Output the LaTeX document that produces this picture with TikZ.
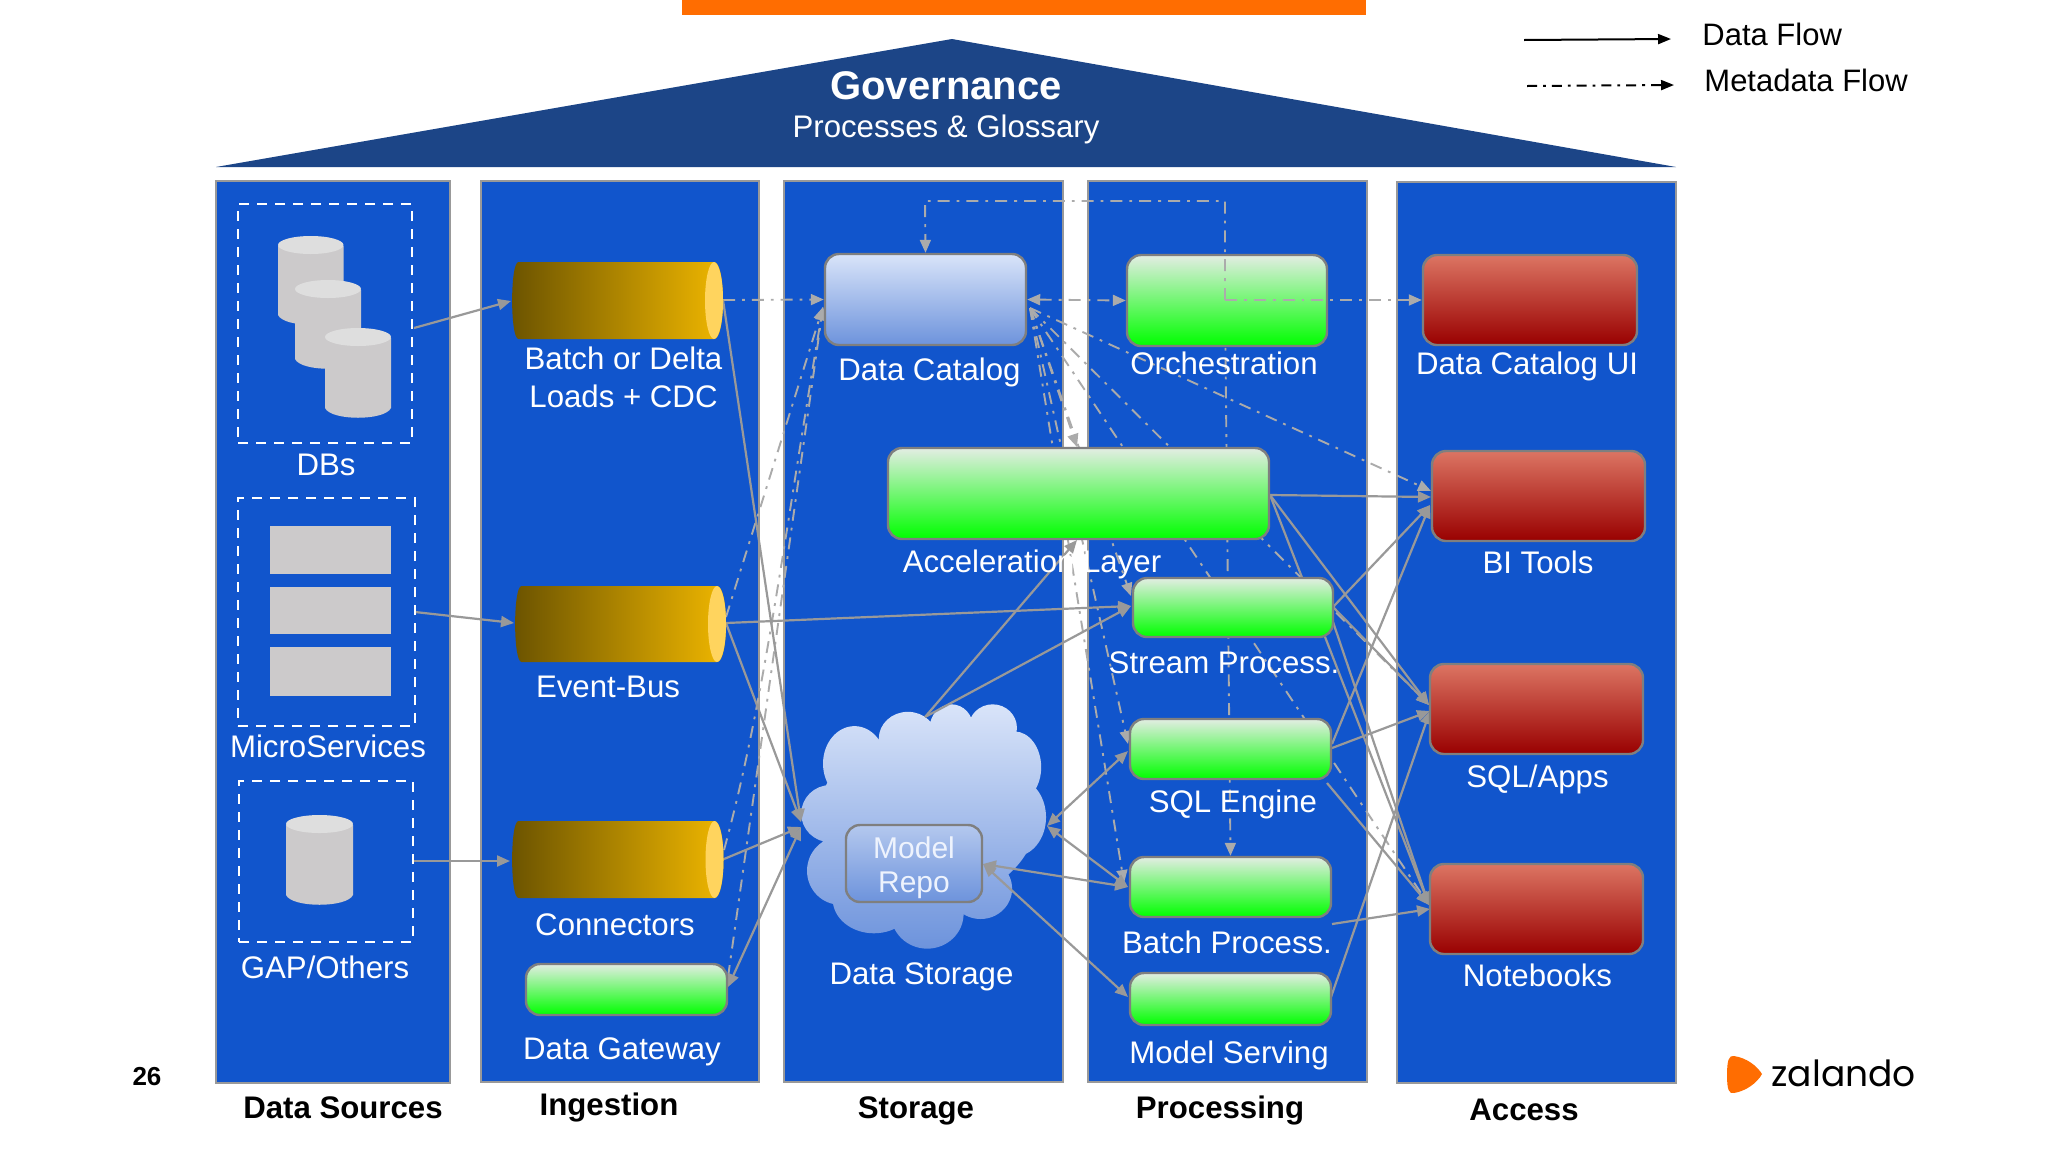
\documentclass[tikz,border=0pt]{standalone}
\usepackage{fontspec}
\setmainfont{Liberation Sans}
\newfontfamily\zalfont{Poppins}
\usetikzlibrary{arrows.meta}
\definecolor{panelblue}{HTML}{1155CC}
\definecolor{panelline}{HTML}{999999}
\definecolor{roofblue}{HTML}{1C4587}
\definecolor{barorange}{HTML}{FF6D01}
\definecolor{wire}{HTML}{999999}
\definecolor{metawire}{HTML}{ABABAB}
\definecolor{boxline}{HTML}{7F7F7F}
\definecolor{grayshape}{HTML}{CCCACB}
\definecolor{graytop}{HTML}{DEDEDE}
\definecolor{cylL}{HTML}{6B5300}
\definecolor{cylR}{HTML}{F1B800}
\definecolor{cylend}{HTML}{FFD45E}
\definecolor{blueT}{HTML}{D9E4F9}
\definecolor{blueB}{HTML}{6D93DC}
\definecolor{repoT}{HTML}{B4C8EE}
\definecolor{greenT}{HTML}{E3EDE3}
\definecolor{greenB}{HTML}{00FF00}
\definecolor{redT}{HTML}{DC7563}
\definecolor{redB}{HTML}{990000}
\definecolor{repotext}{HTML}{EEF3FD}
\pgfdeclarelayer{panels}
\pgfdeclarelayer{wires}
\pgfdeclarelayer{over}
\pgfsetlayers{panels,wires,main,over}
\tikzset{
  tip/.tip={Triangle[length=6.5pt,width=5.5pt]},
  panel/.style={draw=panelline,line width=1.2pt,fill=panelblue},
  dbox/.style={draw=white,line width=1.3pt,dash pattern=on 5pt off 4pt},
  grect/.style={fill=grayshape},
  catbox/.style={draw=boxline,line width=1.2pt,rounded corners=7pt,top color=blueT,bottom color=blueB},
  repobox/.style={draw=boxline,line width=1.2pt,rounded corners=7pt,top color=repoT,bottom color=blueB},
  greenbox/.style={draw=boxline,line width=1.2pt,rounded corners=7pt,top color=greenT,bottom color=greenB},
  redbox/.style={draw=boxline,line width=1.2pt,rounded corners=7pt,top color=redT,bottom color=redB},
  lab/.style={text=white,inner sep=0pt,yshift=-1.25pt,font=\fontsize{15.6}{19}\selectfont,text height=11.5pt,text depth=3.2pt},
  lab2/.style={text=white,inner sep=0pt,yshift=-1.25pt,align=center,font=\fontsize{15.6}{19}\selectfont},
  head/.style={text=black,inner sep=0pt,yshift=-1.25pt,font=\fontsize{15.6}{19}\selectfont\bfseries,text height=11.5pt,text depth=3.2pt},
  legendtext/.style={text=black,inner sep=0pt,anchor=west,font=\fontsize{15.5}{19}\selectfont},
  dataflow/.style={draw=wire,line width=1.1pt,-tip},
  dataflowtwo/.style={draw=wire,line width=1.1pt,tip-tip},
  metaflow/.style={draw=metawire,line width=0.95pt,dash pattern=on 6pt off 3.5pt on 1.4pt off 3.5pt,-tip},
  metaflowtwo/.style={draw=metawire,line width=0.95pt,dash pattern=on 6pt off 3.5pt on 1.4pt off 3.5pt,tip-tip},
}
% style, name, x0, x1, y0, y1 (reference pixels)
\newcommand{\bx}[6]{\node[#1,inner sep=0pt,minimum width={(#4-#3)*0.5pt},minimum height={(#6-#5)*0.5pt}] (#2) at ({(#3+#4)/2},{(#5+#6)/2}) {};}
% vertical grey cylinder: x0, x1, y0, y1
\newcommand{\vcyl}[4]{%
  \fill[grayshape] (#1,#3+10) -- (#1,#4-10) .. controls (#1+6,#4+3) and (#2-6,#4+3) .. (#2,#4-10) -- (#2,#3+10) -- cycle;
  \fill[graytop] ({(#1+#2)/2},#3+9) ellipse [x radius={(#2-#1)/2},y radius=9];}
% horizontal yellow cylinder: name, x0, x1, y0, y1
\newcommand{\hcyl}[5]{%
  \node[inner sep=0pt,minimum width={(#3-#2)*0.5pt},minimum height={(#5-#4)*0.5pt}] (#1) at ({(#2+#3)/2},{(#4+#5)/2}) {};
  \shade[left color=cylL,right color=cylR] (#2+6.5,#4) -- (#3-9,#4) .. controls (#3+3,#4) and (#3+3,#5) .. (#3-9,#5) -- (#2+6.5,#5) .. controls (#2-2,#5) and (#2-2,#4) .. (#2+6.5,#4) -- cycle;
  \fill[cylend] (#3-9,{(#4+#5)/2}) ellipse [x radius=9,y radius={(#5-#4)/2}];}
\begin{document}
\begin{tikzpicture}[x=0.5pt,y=-0.5pt]
\useasboundingbox (0,0) rectangle (2048,1152);
\begin{pgfonlayer}{panels}
\fill[white] (0,0) rectangle (2048,1152);
\fill[barorange] (682,0) rectangle (1366,15);
\fill[roofblue] (952,39) -- (1676,167) -- (216,167) -- cycle;
\bx{panel}{pSources}{216}{450}{181}{1083}
\bx{panel}{pIngest}{481}{759}{181}{1082}
\bx{panel}{pStorage}{784}{1063}{181}{1082}
\bx{panel}{pProcess}{1088}{1367}{181}{1082}
\bx{panel}{pAccess}{1397}{1676}{182}{1083}
% cloud
\begin{scope}[shift={(340pt,-280pt)},x=0.2424pt,y=-0.1786pt]
\shade[top color=blueT,bottom color=blueB]
 (510,720) ellipse [x radius=225,y radius=240]
 (470,500) ellipse [x radius=60,y radius=75]
 (560,470) ellipse [x radius=45,y radius=66]
 (645,470) ellipse [x radius=50,y radius=66]
 (360,570) ellipse [x radius=65,y radius=105]
 (690,580) ellipse [x radius=55,y radius=100]
 (310,710) ellipse [x radius=60,y radius=80]
 (690,720) ellipse [x radius=65,y radius=110]
 (330,870) ellipse [x radius=68,y radius=95]
 (400,950) ellipse [x radius=85,y radius=95]
 (510,990) ellipse [x radius=75,y radius=98]
 (620,920) ellipse [x radius=65,y radius=85];
\end{scope}
\end{pgfonlayer}

% source groups
\bx{dbox}{gDB}{238}{412}{204}{443}
\bx{dbox}{gMS}{238}{415}{498}{726}
\bx{dbox}{gGAP}{239}{413}{781}{942}
\vcyl{278}{343.5}{236}{325}
\vcyl{295}{361}{280}{369}
\vcyl{325}{391}{328}{418}
\vcyl{286}{353}{815}{905}
\bx{grect}{r1}{270}{391}{526}{574}
\bx{grect}{r2}{270}{391}{587}{634}
\bx{grect}{r3}{270}{391}{647}{696}

% ingestion
\hcyl{cOne}{512}{723}{262}{339}
\hcyl{cTwo}{515}{726}{586}{662}
\hcyl{cThree}{512}{723.5}{821}{898}
\bx{greenbox}{gateway}{526}{727}{964}{1015}

% storage / processing / access boxes
\bx{catbox}{cat}{825}{1026}{254}{345}
\bx{repobox}{repo}{846}{982}{825}{902}
\bx{greenbox}{orch}{1127}{1327}{255}{346}
\bx{greenbox}{accel}{888}{1269}{448}{539}
\bx{greenbox}{stream}{1133}{1333}{578}{637}
\bx{greenbox}{sqlengine}{1130}{1331}{719}{779}
\bx{greenbox}{batch}{1130}{1331}{857}{917}
\bx{greenbox}{serving}{1130}{1331}{973}{1025}
\bx{redbox}{ui}{1423}{1637}{255}{345}
\bx{redbox}{bi}{1432}{1645}{451}{541}
\bx{redbox}{sqlapps}{1430}{1643}{664}{754}
\bx{redbox}{notebooks}{1430}{1643}{864}{954}

% ports
\coordinate (gDBr) at (414,328);
\coordinate (gMSr) at (415,612);
\coordinate (gGAPr) at (414,861);
\coordinate (cOneL) at (511,301);
\coordinate (cTwoL) at (514,623);
\coordinate (cThreeL) at (510,861);
\coordinate (cOneR) at (723,300);
\coordinate (cTwoR) at (726,623);
\coordinate (cThreeR) at (724,859);
\coordinate (gateR) at (728,987);
\coordinate (cloudW) at (801,822);
\coordinate (cloudWb) at (801,827);
\coordinate (cloudN) at (925,717);
\coordinate (cloudE) at (1047,826);
\coordinate (repoE) at (983,864);
\coordinate (streamWa) at (1131,606);
\coordinate (accelS) at (1077,540);
\coordinate (sqlWa) at (1128,751);
\coordinate (batchWa) at (1128,887);
\coordinate (servW) at (1128,997);
\coordinate (accelE) at (1270,495);
\coordinate (streamE) at (1333,607);
\coordinate (streamEb) at (1333,622);
\coordinate (sqlEa) at (1332,744);
\coordinate (sqlEb) at (1332,748);
\coordinate (sqlEc) at (1327,783);
\coordinate (batchE) at (1332,924);
\coordinate (servE) at (1331,997);
\coordinate (biWa) at (1431,497);
\coordinate (biWb) at (1430,505);
\coordinate (sqlAa) at (1429,705);
\coordinate (sqlAb) at (1430,711);
\coordinate (nbWa) at (1429,905);
\coordinate (nbWb) at (1430,909);
\coordinate (catWa) at (823,307);
\coordinate (catEa) at (1030,308);
\coordinate (cThreeRm) at (724,850);
\coordinate (cTwoRm) at (726,617);
\coordinate (gateRm) at (728,977);
\coordinate (accelN) at (1077,447);
\coordinate (streamWb) at (1131,596);
\coordinate (sqlWb) at (1128,744);
\coordinate (batchWb) at (1124,883);
\coordinate (biWc) at (1431,491);
\coordinate (orchC) at (1225,300);
\coordinate (catTop) at (925,201);
\coordinate (orchE) at (1327,300);

\begin{pgfonlayer}{wires}
% metadata flow
\draw[metaflow] (cOneR) -- (cat.west);
\draw[metaflow] (cTwoRm) -- (catWa);
\draw[metaflow] (cThreeRm) .. controls (765,700) and (785,530) .. (catWa);
\draw[metaflow] (gateRm) -- (catWa);
\draw[metaflowtwo] (cat.east) -- (orch.west);
\draw[metaflow] (catEa) -- (accelN);
\draw[metaflow] (catEa) -- (streamWb);
\draw[metaflow] (catEa) -- (sqlWb);
\draw[metaflow] (catEa) -- (batchWb);
\draw[metaflow] (catEa) -- (biWc);
\draw[metaflow] (catEa) -- (sqlAa);
\draw[metaflow] (catEa) -- (nbWa);
\draw[metaflow] (orchC) -- (batch.north);
% data flow
\draw[dataflow] (gDBr) -- (cOneL);
\draw[dataflow] (gMSr) -- (cTwoL);
\draw[dataflow] (gGAPr) -- (cThreeL);
\draw[dataflow] (cOneR) -- (cloudW);
\draw[dataflow] (cTwoR) -- (cloudW);
\draw[dataflow] (cTwoR) -- (streamWa);
\draw[dataflow] (cThreeR) -- (cloudWb);
\draw[dataflowtwo] (gateR) -- (cloudWb);
\draw[dataflow] (cloudN) -- (streamWa);
\draw[dataflow] (cloudN) -- (accelS);
\draw[dataflowtwo] (cloudE) -- (sqlWa);
\draw[dataflowtwo] (cloudE) -- (batchWa);
\draw[dataflowtwo] (repoE) -- (batchWa);
\draw[dataflowtwo] (repoE) -- (servW);
\draw[dataflow] (accelE) -- (biWa);
\draw[dataflow] (accelE) -- (sqlAa);
\draw[dataflow] (accelE) -- (nbWa);
\draw[dataflow] (streamE) -- (biWb);
\draw[dataflow] (streamE) -- (sqlAa);
\draw[dataflow] (streamEb) -- (nbWa);
\draw[dataflow] (sqlEa) -- (biWb);
\draw[dataflow] (sqlEb) -- (sqlAb);
\draw[dataflow] (sqlEc) -- (nbWa);
\draw[dataflow] (batchE) -- (nbWb);
\draw[dataflow] (servE) -- (sqlAb);
\end{pgfonlayer}

\begin{pgfonlayer}{over}
\draw[metaflow] (orchC) |- (catTop) -- (cat.north);
\draw[metaflow] (orchC) -- (ui.west);
\end{pgfonlayer}

% roof text
\node[text=white,inner sep=0pt,font=\fontsize{20}{24}\selectfont\bfseries] (tGov) at (946,86) {Governance};
\node[text=white,inner sep=0pt,font=\fontsize{15.6}{19}\selectfont] (tProc) at (946,129) {Processes \& Glossary};

% legend
\coordinate (lgA) at (1524,40);
\coordinate (lgB) at (1671,39);
\coordinate (lgC) at (1527,86);
\coordinate (lgD) at (1674,85);
\draw[black,line width=1pt,-{Triangle[length=6.5pt,width=5pt]}] (lgA) -- (lgB);
\draw[black,line width=1pt,dash pattern=on 5pt off 3pt on 1.4pt off 3pt,-{Triangle[length=6.5pt,width=5pt]}] (lgC) -- (lgD);
\node[legendtext] (tData) at (1702,34) {Data Flow};
\node[legendtext] (tMeta) at (1704,80) {Metadata Flow};

% labels
\node[lab] (lDB) at (326,465) {DBs};
\node[lab] (lMS) at (328,747) {MicroServices};
\node[lab] (lGAP) at (325,968) {GAP/Others};
\node[lab2] (lBatch) at (623.5,374.5) {Batch or Delta\\Loads + CDC};
\node[lab] (lEvent) at (608,687) {Event-Bus};
\node[lab] (lConn) at (615,925) {Connectors};
\node[lab] (lGate) at (622,1049) {Data Gateway};
\node[lab] (lCat) at (929.5,370) {Data Catalog};
\node[lab] (lOrch) at (1224,364) {Orchestration};
\node[lab] (lAccel) at (1032,562) {Acceleration Layer};
\node[lab] (lStream) at (1224,663) {Stream Process.};
\node[lab] (lSQLE) at (1233,802) {SQL Engine};
\node[lab] (lBatchP) at (1227,943) {Batch Process.};
\node[lab] (lServ) at (1229,1053) {Model Serving};
\node[lab] (lUI) at (1527,364) {Data Catalog UI};
\node[lab] (lBI) at (1538,563) {BI Tools};
\node[lab] (lSQLA) at (1537.5,777) {SQL/Apps};
\node[lab] (lNB) at (1537.5,976) {Notebooks};
\node[lab] (lStore) at (921.5,974) {Data Storage};
\node[lab2,text=repotext,font=\fontsize{15}{17}\selectfont] (lRepo) at (914,865) {Model\\Repo};

% headings
\node[head] (hA) at (343,1108) {Data Sources};
\node[head] (hB) at (609,1105) {Ingestion};
\node[head] (hC) at (916,1108) {Storage};
\node[head] (hD) at (1220,1108) {Processing};
\node[head] (hE) at (1524,1110) {Access};
\node[text=black,inner sep=0pt,font=\fontsize{13}{15}\selectfont\bfseries] (pageNo) at (147,1077) {26};

% logo
\fill[barorange] (1734,1056) .. controls (1747,1058) and (1757,1066) .. (1762,1074) .. controls (1757,1083) and (1746,1091) .. (1734,1093) .. controls (1729,1094) and (1727,1090) .. (1727,1075) .. controls (1727,1060) and (1729,1055) .. (1734,1056) -- cycle;
\node[text=black,inner sep=0pt,anchor=base west,font=\fontsize{18}{20}\zalfont] (zal) at (1771,1086) {zalando};
\end{tikzpicture}
\end{document}
